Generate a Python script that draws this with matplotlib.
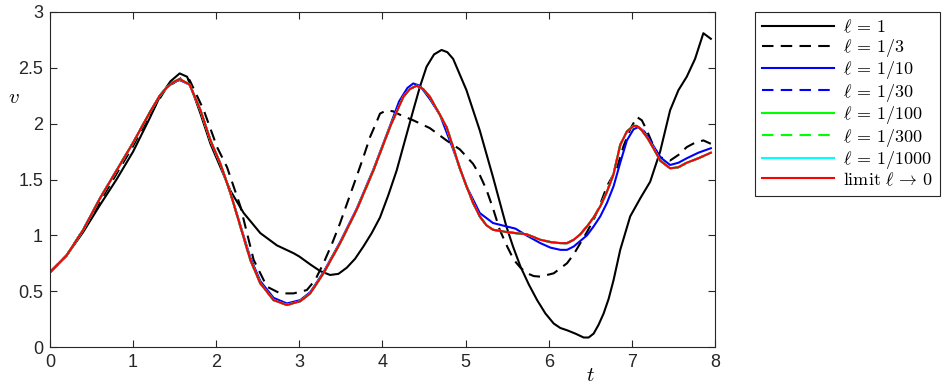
import numpy as np
import matplotlib
matplotlib.use("Agg")
import matplotlib.pyplot as plt

plt.rcParams["font.family"] = ["Liberation Sans", "DejaVu Sans"]
plt.rcParams["mathtext.fontset"] = "cm"

# ell = 1
t_l1 = [0, 0.2, 0.4, 0.6, 0.8, 1.0, 1.2, 1.32, 1.45, 1.56, 1.65, 1.68, 1.81, 1.93, 2.05,
        2.17, 2.33, 2.53, 2.73, 2.93, 3.0, 3.13, 3.25, 3.37, 3.47, 3.57, 3.67, 3.77, 3.87,
        3.97, 4.07, 4.17, 4.27, 4.37, 4.45, 4.53, 4.62, 4.71, 4.78, 4.85, 4.93, 5.01, 5.09,
        5.17, 5.25, 5.33, 5.41, 5.49, 5.57, 5.66, 5.76, 5.86, 5.96, 6.06, 6.14, 6.22, 6.32,
        6.42, 6.48, 6.54, 6.6, 6.66, 6.72, 6.78, 6.86, 6.98, 7.1, 7.22, 7.34, 7.46, 7.56,
        7.66, 7.76, 7.86, 7.95]
v_l1 = [0.67, 0.82, 1.03, 1.27, 1.5, 1.75, 2.05, 2.24, 2.38, 2.45, 2.42, 2.36, 2.09, 1.82, 1.61,
        1.4, 1.2, 1.02, 0.91, 0.84, 0.81, 0.74, 0.68, 0.645, 0.655, 0.71, 0.79, 0.9, 1.02,
        1.16, 1.36, 1.58, 1.85, 2.12, 2.33, 2.51, 2.62, 2.66, 2.64, 2.58, 2.44, 2.3, 2.12,
        1.94, 1.73, 1.52, 1.3, 1.08, 0.9, 0.72, 0.56, 0.42, 0.3, 0.21, 0.17, 0.15, 0.12,
        0.085, 0.085, 0.12, 0.2, 0.3, 0.43, 0.6, 0.87, 1.17, 1.33, 1.48, 1.75, 2.12, 2.3,
        2.42, 2.58, 2.81, 2.76]

# ell = 1/3
t_l3 = [0, 0.2, 0.4, 0.6, 0.8, 1.0, 1.2, 1.4, 1.6, 1.68, 1.85, 2.01, 2.13, 2.29, 2.45,
        2.61, 2.77, 2.93, 3.09, 3.19, 3.29, 3.39, 3.49, 3.59, 3.69, 3.77, 3.85, 3.92, 3.97,
        4.05, 4.13, 4.21, 4.37, 4.57, 4.77, 4.93, 5.09, 5.17, 5.25, 5.33, 5.41, 5.5, 5.58,
        5.66, 5.74, 5.82, 5.9, 6.06, 6.22, 6.3, 6.38, 6.46, 6.54, 6.62, 6.7, 6.82, 6.9,
        6.98, 7.06, 7.12, 7.18, 7.26, 7.34, 7.46, 7.56, 7.66, 7.76, 7.86, 7.95]
v_l3 = [0.67, 0.82, 1.05, 1.3, 1.55, 1.8, 2.08, 2.32, 2.42, 2.39, 2.12, 1.79, 1.61, 1.26, 0.78,
        0.54, 0.48, 0.48, 0.51, 0.6, 0.75, 0.92, 1.11, 1.32, 1.53, 1.7, 1.88, 2.0, 2.09,
        2.12, 2.11, 2.08, 2.03, 1.96, 1.85, 1.77, 1.64, 1.54, 1.41, 1.24, 1.05, 0.9, 0.78,
        0.71, 0.66, 0.635, 0.63, 0.66, 0.75, 0.83, 0.93, 1.03, 1.14, 1.28, 1.44, 1.6, 1.8,
        1.95, 2.06, 2.03, 1.94, 1.8, 1.7, 1.67, 1.72, 1.79, 1.83, 1.85, 1.82]

# ell = 1/10
t_l10 = [0, 0.2, 0.4, 0.6, 0.8, 1.0, 1.2, 1.32, 1.4, 1.48, 1.56, 1.68, 1.81, 1.93, 2.05, 2.17,
         2.29, 2.41, 2.53, 2.69, 2.85, 3.01, 3.13, 3.29, 3.49, 3.69, 3.89, 4.09, 4.2, 4.3,
         4.37, 4.45, 4.57, 4.69, 4.85, 5.01, 5.17, 5.33, 5.49, 5.6, 5.73, 5.9, 6.02, 6.14,
         6.22, 6.3, 6.46, 6.54, 6.62, 6.7, 6.78, 6.86, 6.94, 7.02, 7.08, 7.15, 7.22, 7.34,
         7.46, 7.56, 7.66, 7.8, 7.95]
v_l10 = [0.67, 0.82, 1.05, 1.33, 1.58, 1.83, 2.1, 2.25, 2.32, 2.37, 2.39, 2.35, 2.12, 1.85, 1.64, 1.38,
         1.09, 0.8, 0.59, 0.44, 0.39, 0.42, 0.49, 0.67, 0.94, 1.24, 1.59, 1.98, 2.2, 2.32,
         2.36, 2.34, 2.22, 2.08, 1.77, 1.44, 1.2, 1.11, 1.08, 1.06, 1.0, 0.93, 0.89, 0.87,
         0.87, 0.9, 1.0, 1.08, 1.17, 1.29, 1.44, 1.65, 1.85, 1.95, 1.97, 1.93, 1.85, 1.7,
         1.63, 1.65, 1.69, 1.74, 1.78]

# ell -> 0 (ell = 1/30 ... 1/1000 lie on top of it)
t_lim = [0, 0.2, 0.4, 0.6, 0.8, 1.0, 1.2, 1.32, 1.4, 1.48, 1.56, 1.68, 1.81, 1.93, 2.05, 2.17,
         2.29, 2.41, 2.53, 2.69, 2.85, 3.01, 3.13, 3.29, 3.49, 3.69, 3.89, 4.09, 4.25, 4.33,
         4.41, 4.49, 4.57, 4.69, 4.77, 4.85, 4.93, 5.01, 5.09, 5.17, 5.25, 5.33, 5.49, 5.6,
         5.73, 5.9, 6.02, 6.14, 6.22, 6.3, 6.38, 6.46, 6.54, 6.62, 6.7, 6.78, 6.86, 6.94,
         7.02, 7.06, 7.12, 7.18, 7.26, 7.34, 7.46, 7.56, 7.66, 7.8, 7.95]
v_lim = [0.67, 0.82, 1.05, 1.33, 1.58, 1.83, 2.1, 2.25, 2.32, 2.37, 2.4, 2.35, 2.12, 1.85, 1.64, 1.38,
         1.08, 0.78, 0.57, 0.42, 0.376, 0.41, 0.48, 0.66, 0.93, 1.23, 1.58, 1.97, 2.24, 2.31,
         2.34, 2.31, 2.24, 2.08, 1.97, 1.79, 1.6, 1.44, 1.29, 1.17, 1.09, 1.05, 1.03, 1.02,
         1.01, 0.96, 0.94, 0.93, 0.93, 0.96, 1.01, 1.08, 1.16, 1.26, 1.39, 1.55, 1.81, 1.93,
         1.98, 1.98, 1.94, 1.88, 1.78, 1.67, 1.6, 1.61, 1.65, 1.69, 1.74]

series = [
    (t_l1, v_l1, "k", "-", r"$\ell\,=\,1$"),
    (t_l3, v_l3, "k", "--", r"$\ell\,=\,1/3$"),
    (t_l10, v_l10, "#0000ff", "-", r"$\ell\,=\,1/10$"),
    (t_lim, v_lim, "#0000ff", "--", r"$\ell\,=\,1/30$"),
    (t_lim, v_lim, "#00ff00", "-", r"$\ell\,=\,1/100$"),
    (t_lim, v_lim, "#00ff00", "--", r"$\ell\,=\,1/300$"),
    (t_lim, v_lim, "#00ffff", "-", r"$\ell\,=\,1/1000$"),
    (t_lim, v_lim, "#ff0000", "-", r"$\mathrm{limit}\ \ell\,\to\,0$"),
]

fig = plt.figure(figsize=(9.45, 3.87), dpi=100)
ax = fig.add_axes([50/945, 40/387, 665/945, 335/387])

for t, v, c, ls, lab in series:
    if ls == "--":
        ax.plot(t, v, color=c, lw=1.5, dashes=(5.5, 3.5), label=lab)
    else:
        ax.plot(t, v, color=c, lw=1.5, label=lab)

ax.set_xlim(0, 8)
ax.set_ylim(0, 3)
ax.set_xticks(range(0, 9))
ax.set_yticks([0, 0.5, 1, 1.5, 2, 2.5, 3])
ax.set_yticklabels(["0", "0.5", "1", "1.5", "2", "2.5", "3"])
ax.tick_params(direction="in", top=True, right=True, length=5, width=0.8,
               labelsize=13, colors="#262626", pad=5)
for s in ax.spines.values():
    s.set_color("#262626")
    s.set_linewidth(0.8)

ax.text(-0.055, 0.745, r"$v$", transform=ax.transAxes, fontsize=15, ha="center", va="center")
ax.text(0.813, -0.085, r"$t$", transform=ax.transAxes, fontsize=15, ha="center", va="center")

leg = ax.legend(loc="upper left", bbox_to_anchor=(755/945, 1 - 12/387), bbox_transform=fig.transFigure,
                fontsize=13, handlelength=4.0, handletextpad=0.45, labelspacing=0.02,
                borderpad=0.4, borderaxespad=0, fancybox=False, framealpha=1)
leg.get_frame().set_edgecolor("#262626")
leg.get_frame().set_linewidth(0.8)

fig.savefig("out.png", dpi=100)
